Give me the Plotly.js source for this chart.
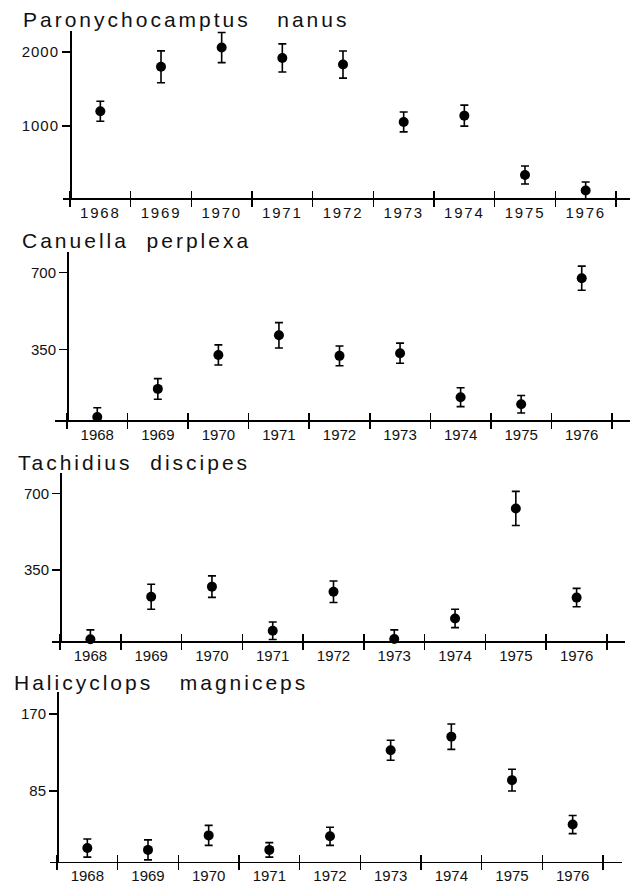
<!DOCTYPE html>
<html><head><meta charset="utf-8">
<script src="https://cdn.plot.ly/plotly-3.0.1.min.js"></script>
<style>
body{margin:0;background:#fff}
#chart{width:639px;height:885px}
.annotation-text{letter-spacing:3px !important}
.xtick text{letter-spacing:1.8px !important}
.ytick text{letter-spacing:1px !important}
</style></head><body><div id="chart"></div>
<script>
// ---- data ----
const years = [1968, 1969, 1970, 1971, 1972, 1973, 1974, 1975, 1976];
const yearLabels = ['1968', '1969', '1970', '1971', '1972', '1973', '1974', '1975', '1976'];
const speciesNames = ['Paronychocamptus\u00A0\u00A0\u00A0nanus', 'Canuella\u00A0\u00A0perplexa', 'Tachidius\u00A0\u00A0discipes', 'Halicyclops\u00A0\u00A0\u00A0magniceps'];

const nanusValues = [1200, 1800, 2060, 1920, 1830, 1055, 1140, 338, 128];
const nanusErrors = [135, 215, 203, 190, 183, 135, 142, 121, 115];
const nanusTicks = [1000, 2000];

const perplexaValues = [41, 169, 324, 414, 320, 332, 131, 99, 675];
const perplexaErrors = [42, 47, 46, 58, 45, 46, 43, 40, 55];
const perplexaTicks = [350, 700];

const discipesValues = [34, 228, 274, 73, 251, 35, 129, 631, 224];
const discipesErrors = [43, 57, 49, 40, 49, 42, 42, 78, 42];
const discipesTicks = [350, 700];

const magnicepsValues = [22, 20, 36, 20, 35, 130, 145, 97, 48];
const magnicepsErrors = [10, 11, 11, 8, 10, 11, 14, 12, 10];
const magnicepsTicks = [85, 170];

const seriesValues = [nanusValues, perplexaValues, discipesValues, magnicepsValues];
const seriesErrors = [nanusErrors, perplexaErrors, discipesErrors, magnicepsErrors];
const seriesTicks = [nanusTicks, perplexaTicks, discipesTicks, magnicepsTicks];

// ---- geometry (pixels of the 639x885 page) ----
const W = 639, H = 885;
const geom = [
  {lineL:63, axisX:70, lastTick:616, lineR:630, bottom:198,   top:31,  tA:[2000,52],  tB:[1000,126],  titleX:22, titleTop:12},
  {lineL:55, axisX:67, lastTick:612, lineR:630, bottom:420,   top:252, tA:[700,272.7], tB:[350,349.3], titleX:21, titleTop:233},
  {lineL:52, axisX:60, lastTick:607, lineR:625, bottom:641,   top:473, tA:[700,493.3], tB:[350,570],   titleX:17, titleTop:455},
  {lineL:50, axisX:57, lastTick:603, lineR:622, bottom:861.7, top:692, tA:[170,714],   tB:[85,791],    titleX:13, titleTop:675}
];

const boundaries = years.map(y => y - 0.5).concat([years[years.length - 1] + 0.5]);
const FONT = 'Liberation Sans, Arial, sans-serif';

const traces = [];
const layout = {
  width: W, height: H,
  margin: {l:0, r:0, t:0, b:0},
  paper_bgcolor: '#fff', plot_bgcolor: 'rgba(0,0,0,0)',
  showlegend: false,
  font: {family: FONT, color: '#111'},
  annotations: []
};

geom.forEach((g, i) => {
  const n = i + 1;
  const xs = n === 1 ? '' : String(n);
  const ovx = String(n + 4);
  const first = boundaries[0], last = boundaries[boundaries.length - 1];
  const pxPerYear = (g.lastTick - g.axisX) / (last - first);
  const xr = [first - (g.axisX - g.lineL) / pxPerYear, last + (g.lineR - g.lastTick) / pxPerYear];
  const pxPerUnit = (g.tB[1] - g.tA[1]) / (g.tA[0] - g.tB[0]);
  const valAt = py => g.tA[0] + (g.tA[1] - py) / pxPerUnit;
  const yr = [valAt(g.bottom), valAt(g.top)];
  const xdom = [g.lineL / W, g.lineR / W];

  layout['xaxis' + xs] = {
    domain: xdom, range: xr, autorange: false, anchor: 'y' + xs,
    showline: true, linecolor: '#000', linewidth: 1.5,
    showgrid: false, zeroline: false,
    tickmode: 'array', tickvals: years, ticktext: yearLabels, ticks: '',
    tickfont: {size: 15, family: FONT, color: '#111'},
    minor: {tickmode: 'array', tickvals: boundaries, ticks: 'outside', ticklen: 7, tickwidth: 1.5, tickcolor: '#000', showgrid: false}
  };
  layout['xaxis' + ovx] = {
    domain: xdom, range: xr, autorange: false, anchor: 'y' + xs, overlaying: 'x' + xs,
    showline: false, showgrid: false, zeroline: false,
    tickmode: 'array', tickvals: boundaries, ticks: 'inside', ticklen: 7, tickwidth: 1.5, tickcolor: '#000',
    showticklabels: false
  };
  layout['yaxis' + xs] = {
    domain: [1 - g.bottom / H, 1 - g.top / H], range: yr, autorange: false,
    anchor: 'free', position: g.axisX / W,
    showline: true, linecolor: '#000', linewidth: 1.5,
    showgrid: false, zeroline: false,
    tickmode: 'array', tickvals: seriesTicks[i], ticktext: seriesTicks[i].map(String),
    ticks: 'outside', ticklen: 8, tickwidth: 1.5, tickcolor: '#000',
    tickfont: {size: 15, family: FONT, color: '#111'}
  };
  traces.push({
    type: 'scatter', mode: 'markers',
    x: years, y: seriesValues[i],
    xaxis: 'x' + xs, yaxis: 'y' + xs,
    cliponaxis: false,
    marker: {size: 10, color: '#000'},
    error_y: {type: 'data', array: seriesErrors[i], visible: true, color: '#000', thickness: 1.6, width: 4},
    hoverinfo: 'skip'
  });
  traces.push({
    type: 'scatter', mode: 'markers', x: [], y: [],
    xaxis: 'x' + ovx, yaxis: 'y' + xs, hoverinfo: 'skip'
  });
  layout.annotations.push({
    text: speciesNames[i], xref: 'paper', yref: 'paper',
    x: g.titleX / W, y: 1 - (g.titleTop - 5) / H,
    xanchor: 'left', yanchor: 'top', showarrow: false, borderpad: 0,
    font: {size: 21, family: FONT, color: '#111'}
  });
});

Plotly.newPlot('chart', traces, layout, {displayModeBar: false, staticPlot: true});
</script></body></html>
